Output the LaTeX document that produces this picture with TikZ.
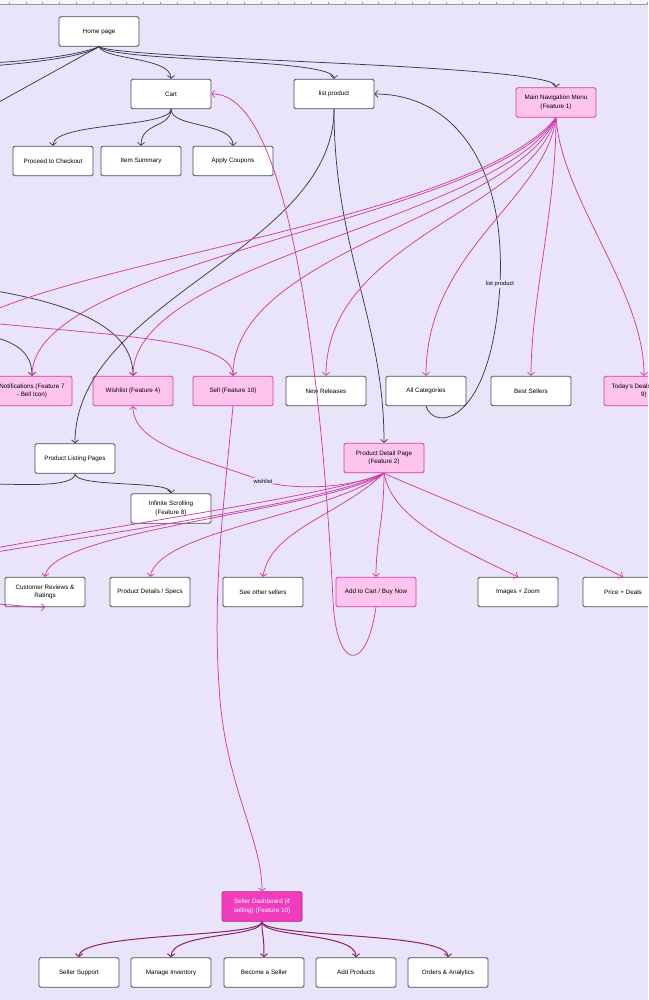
\documentclass[tikz,border=0pt]{standalone}
\usepackage{fontspec}
\setmainfont{Liberation Sans}
\usetikzlibrary{arrows.meta}
\definecolor{bgpurple}{HTML}{EAE4FB}
\definecolor{boxline}{HTML}{4A4A55}
\definecolor{pinkfill}{HTML}{FFC4EE}
\definecolor{pinkline}{HTML}{D23AA5}
\definecolor{hotfill}{HTML}{F03DBE}
\definecolor{hotline}{HTML}{B81E8A}
\definecolor{darklink}{HTML}{3A3A45}
\definecolor{sellerlink}{HTML}{8A1F6E}

\begin{document}
\begin{tikzpicture}[x=1pt, y=-1pt,
	box/.style={draw=boxline, fill=white, rounded corners=1.5pt, line width=0.8pt, minimum width=80pt, minimum height=29.5pt, align=center, font=\fontsize{6.3}{8.5}\selectfont, inner sep=1pt},
	pinkbox/.style={box, draw=pinkline, fill=pinkfill},
	hotbox/.style={box, draw=hotline, fill=hotfill, text=white},
	link/.style={draw=darklink, line width=0.75pt, -{Straight Barb[length=3pt,width=7pt]}},
	pinklink/.style={link, draw=pinkline},
	sellink/.style={link, draw=sellerlink, line width=1pt},
	lbl/.style={fill=bgpurple, inner sep=1pt, font=\fontsize{5.8}{6.5}\selectfont}]
	\useasboundingbox (0,0) rectangle (648,1000);
	\clip (0,0) rectangle (648,1000);
	\fill[bgpurple] (0,0) rectangle (648,1000);
	\fill[bgpurple!40] (0,0) rectangle (648,4.5);
	\draw[gray!80, line width=0.4pt] (0,4.5) -- (648,4.5);
	\foreach \i in {0,...,38}
		\draw[gray!80, line width=0.3pt] (9+16.8*\i,2.5) -- (9+16.8*\i,4.5);

	\node[box] (home) at (99,31.5) {Home page};
	\node[box] (cart) at (171,94) {Cart};
	\node[box] (list) at (334,94) {list product};
	\node[pinkbox] (nav) at (556,102.5) {Main Navigation Menu\\(Feature 1)};
	\node[box] (checkout) at (53,161) {Proceed to Checkout};
	\node[box] (summary) at (141,161) {Item Summary};
	\node[box] (coupons) at (233,161) {Apply Coupons};

	\node[pinkbox] (notif) at (32,391) {Notifications (Feature 7\\- Bell Icon)};
	\node[pinkbox] (wish) at (133,391) {Wishlist (Feature 4)};
	\node[pinkbox] (sell) at (233,391) {Sell (Feature 10)};
	\node[box] (newrel) at (326,391) {New Releases};
	\node[box] (allcat) at (426,391) {All Categories};
	\node[box] (best) at (531,391) {Best Sellers};
	\node[pinkbox] (deals) at (644,391) {Today's Deals (Feature\\9)};

	\node[box] (plp) at (75,458.5) {Product Listing Pages};
	\node[pinkbox] (pdp) at (384,458) {Product Detail Page\\(Feature 2)};
	\node[box] (infinite) at (171,508.5) {Infinite Scrolling\\(Feature 8)};

	\node[box] (reviews) at (45,592) {Customer Reviews \&\\Ratings};
	\node[box] (specs) at (150,592) {Product Details / Specs};
	\node[box] (sellers) at (263,592) {See other sellers};
	\node[pinkbox] (addcart) at (376,592) {Add to Cart / Buy Now};
	\node[box] (zoom) at (518,592) {Images + Zoom};
	\node[box] (price) at (623,592) {Price + Deals};

	\node[hotbox] (dash) at (262,906.5) {Seller Dashboard (if\\selling) (Feature 10)};
	\node[box] (support) at (79,972.5) {Seller Support};
	\node[box] (inventory) at (171,972.5) {Manage Inventory};
	\node[box] (become) at (264,972.5) {Become a Seller};
	\node[box] (addprod) at (356,972.5) {Add Products};
	\node[box] (orders) at (448,972.5) {Orders \& Analytics};

	\coordinate (homeleftA) at (-10,63);
	\coordinate (homeleftB) at (-10,66);
	\coordinate (homeleftC) at (-10,107);
	\coordinate (navleft) at (-10,312);
	\coordinate (sellleft) at (-10,323);
	\coordinate (wishleft) at (-10,290);
	\coordinate (notifleft) at (-10,336);
	\coordinate (plpleft) at (-10,484);
	\coordinate (pdpleftA) at (-10,549);
	\coordinate (pdpleftB) at (-10,553);
	\coordinate (revleft) at (-10,604);

	\draw[link] (home.south) .. controls (104,60) and (171,57) .. (cart.north);
	\draw[link] (home.south) .. controls (112,62) and (334,58) .. (list.north);
	\draw[link] (home.south) .. controls (120,60) and (556,64) .. (nav.north);
	\draw[link, -] (home.south) .. controls (80,55) and (30,61) .. (homeleftA);
	\draw[link, -] (home.south) .. controls (84,57) and (30,63) .. (homeleftB);
	\draw[link, -] (home.south) -- (homeleftC);

	\foreach \t/\x in {checkout/53, summary/141, coupons/233}
		\draw[link] (cart.south) .. controls (171,128) and (\x,122) .. (\t.north);

	\draw[link] (list.south) .. controls (334,250) and (75,300) .. (plp.north);
	\draw[link] (list.south) .. controls (334,250) and (384,320) .. (pdp.north);
	\draw[link] (allcat.south) .. controls (434,432) and (492,425) .. (500,284) node[lbl] {list product}
		.. controls (506,160) and (450,94) .. (list.east);
	\draw[link] (wishleft) .. controls (80,305) and (133,330) .. (wish.north);
	\draw[link] (notifleft) .. controls (15,342) and (32,352) .. (notif.north);

	\draw[pinklink] (nav.south) .. controls (562,200) and (644,290) .. (deals.north);
	\draw[pinklink] (nav.south) .. controls (556,210) and (531,300) .. (best.north);
	\draw[pinklink] (nav.south) .. controls (545,200) and (426,250) .. (allcat.north);
	\draw[pinklink] (nav.south) .. controls (530,210) and (326,240) .. (newrel.north);
	\draw[pinklink] (nav.south) .. controls (515,215) and (233,250) .. (sell.north);
	\draw[pinklink] (nav.south) .. controls (500,220) and (133,260) .. (wish.north);
	\draw[pinklink] (nav.south) .. controls (490,220) and (32,260) .. (notif.north);
	\draw[pinklink, -] (nav.south) .. controls (480,212) and (120,255) .. (navleft);
	\draw[pinklink] (sellleft) .. controls (120,336) and (233,340) .. (sell.north);

	\draw[pinklink] (sell.south) .. controls (222,520) and (212,600) .. (220,700)
		.. controls (228,790) and (262,840) .. (dash.north);
	\draw[pinklink] (addcart.south) .. controls (366,675) and (336,670) .. (333,600)
		.. controls (322,380) and (290,92) .. (cart.east);

	\draw[link] (plp.south) .. controls (75,488) and (171,480) .. (infinite.north);
	\draw[link, -] (plp.south) .. controls (75,488) and (20,484) .. (plpleft);

	\draw[pinklink] (pdp.south) .. controls (340,492) and (282,488) .. (263,481) node[lbl] {wishlist}
		.. controls (200,458) and (133,445) .. (wish.south);
	\draw[pinklink, -] (pdp.south) .. controls (340,493) and (150,520) .. (pdpleftA);
	\draw[pinklink, -] (pdp.south) .. controls (340,498) and (150,527) .. (pdpleftB);
	\draw[pinklink] (pdp.south) .. controls (330,510) and (50,530) .. (reviews.north);
	\draw[pinklink] (pdp.south) .. controls (330,515) and (160,530) .. (specs.north);
	\draw[pinklink] (pdp.south) .. controls (340,515) and (270,530) .. (sellers.north);
	\draw[pinklink] (pdp.south) .. controls (384,520) and (376,540) .. (addcart.north);
	\draw[pinklink] (pdp.south) .. controls (392,515) and (440,540) .. (zoom.north);
	\draw[pinklink] (pdp.south) .. controls (420,490) and (560,545) .. (price.north);
	\draw[pinklink] (revleft) to[out=0, in=180] (reviews.south);

	\foreach \t/\x in {support/79, inventory/171, become/264, addprod/356, orders/448}
		\draw[sellink] (dash.south) .. controls (262,938) and (\x,932) .. (\t.north);
\end{tikzpicture}
\end{document}
